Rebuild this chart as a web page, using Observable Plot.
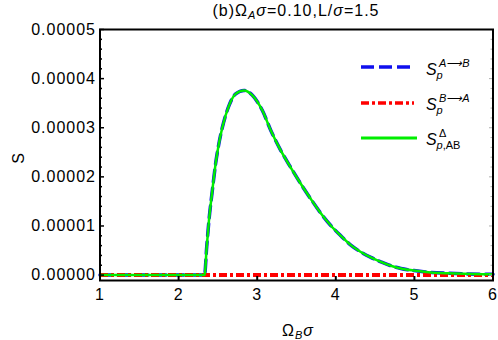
<!DOCTYPE html>
<html><head><meta charset="utf-8">
<script src="https://cdn.jsdelivr.net/npm/d3@7"></script>
<script src="https://cdn.jsdelivr.net/npm/@observablehq/plot@0.6"></script>
<style>
body{margin:0;background:#fff;}
#chart svg{font-family:"Liberation Sans",Arial,sans-serif;}
#chart svg text{letter-spacing:1px;}
</style></head><body><div id="chart"></div>
<script>
// Data
const omegaB = [1, 2.33, 2.357, 2.386, 2.429, 2.471, 2.513, 2.557, 2.641, 2.726, 2.832, 2.939, 3.066, 3.172, 3.299, 3.427, 3.554, 3.682, 3.809, 3.936, 4.064, 4.191, 4.318, 4.446, 4.573, 4.701, 4.828, 4.994, 5.21, 5.423, 5.631, 5.949, 6];
const sAB = [0, 0, 0.56e-5, 1.11e-5, 1.72e-5, 2.27e-5, 2.68e-5, 3.01e-5, 3.45e-5, 3.69e-5, 3.76e-5, 3.66e-5, 3.35e-5, 2.95e-5, 2.54e-5, 2.19e-5, 1.86e-5, 1.55e-5, 1.26e-5, 1.01e-5, 0.80e-5, 0.61e-5, 0.47e-5, 0.36e-5, 0.27e-5, 0.19e-5, 0.135e-5, 0.092e-5, 0.055e-5, 0.037e-5, 0.025e-5, 0.017e-5, 0.016e-5];
const omegaB_BA = [1, 6];
const sBA = [0, 0];
const sDelta = sAB; // S^Δ_{p,AB} coincides with S^{A→B}
const yTicks = [0, 0.00001, 0.00002, 0.00003, 0.00004, 0.00005];
const xTicks = [1, 2, 3, 4, 5, 6];
const yMinor = d3.range(0, 26).map(i => i * 0.000002).filter(v => Math.abs(v / 0.00001 - Math.round(v / 0.00001)) > 1e-6);

const W = 498, H = 340, mL = 99.5, mR = 5.5, mT = 29, mB = 60;
const fw = W - mL - mR, fh = H - mT - mB;

const curveAB = omegaB.map((x, i) => ({x, y: sAB[i]}));
const curveD = omegaB.map((x, i) => ({x, y: sDelta[i]}));
const curveBA = omegaB_BA.map((x, i) => ({x, y: sBA[i]}));

const plot = Plot.plot({
  width: W, height: H,
  marginLeft: mL, marginRight: mR, marginTop: mT, marginBottom: mB,
  style: {fontFamily: '"Liberation Sans", Arial, sans-serif', fontSize: "16px", background: "white", overflow: "visible", color: "black"},
  x: {domain: [1, 6]},
  y: {domain: [-0.0000011, 0.00005]},
  marks: [
    Plot.line(curveAB, {x: "x", y: "y", stroke: "#1010ee", strokeWidth: 3.5, strokeDasharray: "12,6", curve: "monotone-x"}),
    Plot.line(curveBA, {x: "x", y: "y", stroke: "#ff0000", strokeWidth: 4, strokeDasharray: "8,3,3,3", strokeLinecap: "butt"}),
    Plot.line(curveD, {x: "x", y: "y", stroke: "#00ee00", strokeWidth: 2.5, curve: "monotone-x"}),
    Plot.ruleY(yMinor, {stroke: "black", strokeWidth: 1.5, insetRight: fw - 2.5}),
    Plot.ruleY(yTicks, {stroke: "black", strokeWidth: 1.5, insetRight: fw - 4.5}),
    Plot.ruleY(yMinor, {stroke: "#b0b0b0", strokeWidth: 1, insetLeft: fw - 2}),
    Plot.ruleY(yTicks, {stroke: "#b0b0b0", strokeWidth: 1, insetLeft: fw - 3.5}),
    Plot.ruleX(xTicks.slice(1, -1), {stroke: "black", strokeWidth: 2, insetTop: fh - 4}),
    Plot.frame({stroke: "black", strokeWidth: 2}),
    Plot.axisY({ticks: yTicks, tickFormat: d3.format(".5f"), tickSize: 0, tickPadding: 4, label: null, fontSize: 16}),
    Plot.axisX({ticks: xTicks, tickFormat: d => String(d), tickSize: 0, tickPadding: 8, label: null, fontSize: 16})
  ]
});
document.getElementById("chart").appendChild(plot);

const svg = d3.select(plot);
const g = svg.append("g").attr("fill", "black").attr("text-anchor", "start").style("font-family", '"Liberation Sans", Arial, sans-serif');

// Title
const t = g.append("text").attr("x", 296).attr("y", 15.5).attr("text-anchor", "middle").attr("font-size", 16);
t.append("tspan").text("(b)Ω");
t.append("tspan").attr("font-size", 11).attr("font-style", "italic").attr("dy", 3.5).text("A");
t.append("tspan").attr("font-style", "italic").attr("dy", -3.5).text("σ");
t.append("tspan").text("=0.10,L/");
t.append("tspan").attr("font-style", "italic").text("σ");
t.append("tspan").text("=1.5");

// X label
const xl = g.append("text").attr("x", 298).attr("y", 336).attr("text-anchor", "middle").attr("font-size", 16);
xl.append("tspan").text("Ω");
xl.append("tspan").attr("font-size", 11).attr("font-style", "italic").attr("dy", 3).text("B");
xl.append("tspan").attr("font-style", "italic").attr("dy", -3).text("σ");

// Y label
g.append("text").attr("transform", "translate(24,158) rotate(-90)").attr("text-anchor", "middle").attr("font-size", 16).text("S");

// Legend
const legend = [
  {stroke: "#1010ee", dash: "13,5", w: 3.5, x2: 413, ly: 67, sup: "A⟶B", supItalic: true, sub: [["p", true]], sy: 75},
  {stroke: "#ff0000", dash: "8,3,3,3", w: 3.5, x2: 414, ly: 103, sup: "B⟶A", supItalic: true, sub: [["p", true]], sy: 110},
  {stroke: "#00ee00", dash: null, w: 3, x2: 417, ly: 138, sup: "Δ", supItalic: false, sub: [["p", true], [",AB", false]], sy: 145}
];
legend.forEach(d => {
  const ln = g.append("line").attr("x1", 361).attr("x2", d.x2).attr("y1", d.ly).attr("y2", d.ly)
    .attr("stroke", d.stroke).attr("stroke-width", d.w);
  if (d.dash) ln.attr("stroke-dasharray", d.dash);
  g.append("text").attr("x", 426).attr("y", d.sy).attr("font-size", 16).attr("font-style", "italic").style("letter-spacing", "0px").text("S");
  g.append("text").attr("x", 439).attr("y", d.sy - 8.5).attr("font-size", 11)
    .attr("font-style", d.supItalic ? "italic" : "normal").style("letter-spacing", "0px").text(d.sup);
  const sb = g.append("text").attr("x", 436.5).attr("y", d.sy + 4).attr("font-size", 11).style("letter-spacing", "0px");
  d.sub.forEach(([s, it]) => sb.append("tspan").attr("font-style", it ? "italic" : "normal").text(s));
});
</script></body></html>
